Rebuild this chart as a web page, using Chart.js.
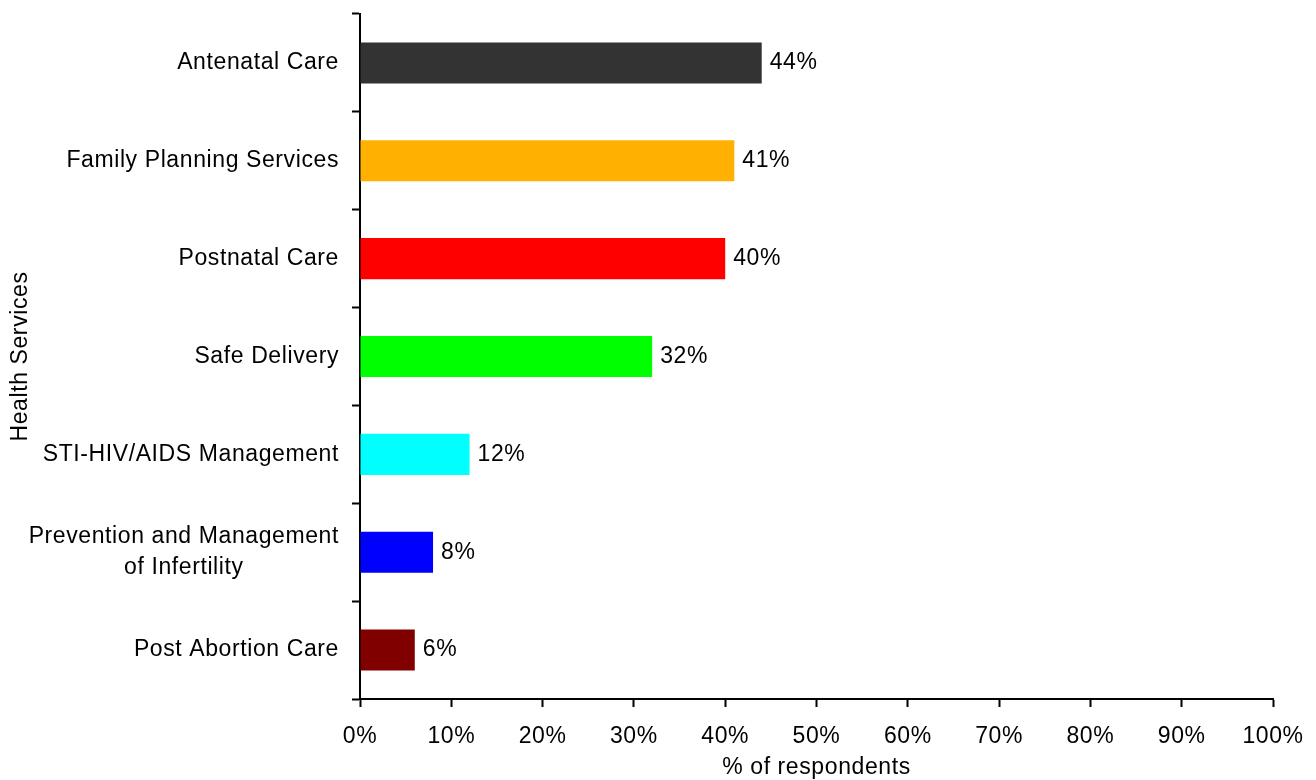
<!DOCTYPE html>
<html>
<head>
<meta charset="utf-8">
<script src="https://cdn.jsdelivr.net/npm/chart.js@4.4.1/dist/chart.umd.min.js"></script>
<style>
  html, body { margin: 0; padding: 0; background: #fff; }
  #wrap { width: 1316px; height: 780px; position: relative; }
</style>
</head>
<body>
<div id="wrap"><canvas id="chart" width="1316" height="780"></canvas></div>
<script>
// Health services known by respondents (% of respondents)
const categories = [
  'Antenatal Care',
  'Family Planning Services',
  'Postnatal Care',
  'Safe Delivery',
  'STI-HIV/AIDS Management',
  ['Prevention and Management', 'of Infertility'],
  'Post Abortion Care'
];
const percentRespondents = [44, 41, 40, 32, 12, 8, 6];
const xTickValues = [0, 10, 20, 30, 40, 50, 60, 70, 80, 90, 100];
const xAxisTitle = '% of respondents';
const yAxisTitle = 'Health Services';

const barColors = ['#333333', '#ffb000', '#ff0000', '#00ff00', '#00ffff', '#0000ff', '#800000'];

const FONT_FAMILY = '"Liberation Sans", Arial, Helvetica, sans-serif';
const FONT_SIZE = 23;
const LETTER_SPACING = '0.6px';

Chart.defaults.font.family = FONT_FAMILY;
Chart.defaults.font.size = FONT_SIZE;
Chart.defaults.color = '#000';

// Slightly open letter spacing for all canvas text
const spacingPlugin = {
  id: 'letterSpacing',
  beforeUpdate(chart) { chart.ctx.letterSpacing = LETTER_SPACING; },
  beforeDraw(chart) { chart.ctx.letterSpacing = LETTER_SPACING; }
};

// Category labels: right-aligned block, multi-line labels centred within their block
const categoryLabelPlugin = {
  id: 'categoryLabels',
  afterDraw(chart) {
    const scale = chart.scales.y;
    const ctx = chart.ctx;
    const lineH = 31;
    ctx.save();
    ctx.letterSpacing = LETTER_SPACING;
    ctx.font = FONT_SIZE + 'px ' + FONT_FAMILY;
    ctx.fillStyle = '#000';
    ctx.textBaseline = 'middle';
    ctx.textAlign = 'center';
    const rightEdge = scale.right - 21;
    categories.forEach((label, i) => {
      const lines = Array.isArray(label) ? label : [label];
      const w = Math.max(...lines.map(l => ctx.measureText(l).width));
      const cx = rightEdge - w / 2;
      const cy = scale.getPixelForTick(i);
      const y0 = cy - (lines.length - 1) * lineH / 2;
      lines.forEach((l, j) => ctx.fillText(l, cx, y0 + j * lineH));
    });
    ctx.restore();
  }
};

// Value labels at the end of each bar
const valueLabelPlugin = {
  id: 'valueLabels',
  afterDatasetsDraw(chart) {
    const ctx = chart.ctx;
    const meta = chart.getDatasetMeta(0);
    ctx.save();
    ctx.letterSpacing = LETTER_SPACING;
    ctx.font = FONT_SIZE + 'px ' + FONT_FAMILY;
    ctx.fillStyle = '#000';
    ctx.textBaseline = 'middle';
    ctx.textAlign = 'left';
    meta.data.forEach((bar, i) => {
      ctx.fillText(Math.round(percentRespondents[i]) + '%', bar.x + 8, bar.y);
    });
    ctx.restore();
  }
};

new Chart(document.getElementById('chart'), {
  type: 'bar',
  data: {
    labels: categories,
    datasets: [{
      data: percentRespondents,
      backgroundColor: barColors,
      borderWidth: 0,
      categoryPercentage: 1,
      barPercentage: 0.42
    }]
  },
  options: {
    indexAxis: 'y',
    responsive: false,
    animation: false,
    events: [],
    layout: { padding: { top: 14, right: 43, left: 0, bottom: 0 } },
    plugins: {
      legend: { display: false },
      tooltip: { enabled: false }
    },
    scales: {
      x: {
        type: 'linear',
        min: 0,
        max: 100,
        afterBuildTicks(scale) {
          scale.ticks = xTickValues.map(v => ({ value: v }));
        },
        afterFit(scale) {
          scale.height = 81;
          scale.paddingLeft = 0;
          scale.paddingRight = 0;
        },
        border: { display: true, color: '#000', width: 2 },
        grid: {
          drawOnChartArea: false,
          drawTicks: true,
          tickLength: 8,
          tickColor: '#000',
          tickWidth: 2
        },
        ticks: {
          padding: 16,
          maxRotation: 0,
          callback: v => v + '%'
        },
        title: {
          display: true,
          text: xAxisTitle,
          padding: { top: 0, bottom: -1 }
        }
      },
      y: {
        type: 'category',
        afterFit(scale) { scale.width = 360; },
        border: { display: true, color: '#000', width: 2 },
        grid: {
          offset: true,
          drawOnChartArea: false,
          drawTicks: true,
          tickLength: 8,
          tickColor: '#000',
          tickWidth: 2
        },
        ticks: { display: false },
        title: {
          display: true,
          text: yAxisTitle,
          padding: { top: 7, bottom: 0 }
        }
      }
    }
  },
  plugins: [spacingPlugin, categoryLabelPlugin, valueLabelPlugin]
});
</script>
</body>
</html>
